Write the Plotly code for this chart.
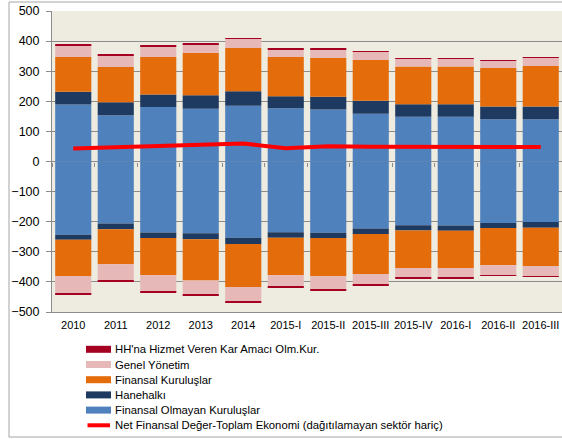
import plotly.graph_objects as go

categories = ["2010", "2011", "2012", "2013", "2014", "2015-I", "2015-II",
              "2015-III", "2015-IV", "2016-I", "2016-II", "2016-III"]

# Finansal Olmayan Kuruluşlar
fok_pos = [189, 154, 181, 175, 185, 177, 173, 159, 149, 149, 140, 140]
fok_neg = [-243, -206, -236, -238, -253, -235, -237, -223, -212, -213, -204, -201]
# Hanehalkı
hh_pos = [43, 43, 42, 45, 48, 40, 42, 43, 41, 41, 43, 43]
hh_neg = [-17, -19, -18, -20, -21, -18, -17, -18, -17, -17, -17, -19]
# Finansal Kuruluşlar
fk_pos = [115, 117, 124, 141, 144, 130, 130, 135, 126, 126, 128, 134]
fk_neg = [-120, -116, -124, -137, -143, -125, -127, -133, -125, -124, -124, -127]
# Genel Yönetim
gy_pos = [40, 37, 35, 29, 31, 26, 27, 29, 25, 25, 23, 29]
gy_neg = [-60, -55, -53, -47, -48, -37, -44, -34, -33, -32, -33, -34]
# HH'na Hizmet Veren Kar Amacı Olm.Kur.
kao_pos = [3, 3, 3, 3, 2, 2, 2, 1, 1, 1, 2, 1]
kao_neg = [-3, -4, -4, -4, -2, -3, -2, -3, -2, -2, -2, -2]
# Net Finansal Değer-Toplam Ekonomi
net = [43, 47, 52, 54, 60, 44, 51, 49, 49, 48, 48, 48]

y_ticks = [-500, -400, -300, -200, -100, 0, 100, 200, 300, 400, 500]

legend_names = ["HH'na Hizmet Veren Kar Amacı Olm.Kur.", "Genel Yönetim",
                "Finansal Kuruluşlar", "Hanehalkı", "Finansal Olmayan Kuruluşlar",
                "Net Finansal Değer-Toplam Ekonomi (dağıtılamayan sektör hariç)"]

C_FOK = "#4F81BD"
C_HH = "#1F3A60"
C_FK = "#E46C0A"
C_GY = "#E6B9B8"
C_KAO = "#A50021"
C_NET = "#FF0000"
FONT = "Liberation Sans"

fig = go.Figure()
series = [
    (fok_pos, fok_neg, C_FOK),
    (hh_pos, hh_neg, C_HH),
    (fk_pos, fk_neg, C_FK),
    (gy_pos, gy_neg, C_GY),
    (kao_pos, kao_neg, C_KAO),
]
for pos, neg, col in series:
    for vals in (pos, neg):
        fig.add_trace(go.Bar(x=categories, y=vals, marker=dict(color=col, line=dict(width=0)),
                             showlegend=False, hoverinfo="skip"))

fig.add_trace(go.Scatter(x=categories, y=net, mode="lines", xaxis="x2",
                         line=dict(color=C_NET, width=4), showlegend=False))

W, H = 562, 439
L, R, T, B = 52, 0, 11, 127
pw = W - L - R
ph = H - T - B


def px(x):
    return (x - L) / pw


def py(y):
    return (H - B - y) / ph


shapes = []
annotations = []
# outer chart border
shapes.append(dict(type="rect", xref="paper", yref="paper", x0=px(9), x1=px(570),
                   y0=py(437), y1=py(2), line=dict(color="#A6A6A6", width=1), layer="below"))

legend_colors = [C_KAO, C_GY, C_FK, C_HH, C_FOK, C_NET]
y0 = 349.3
for i, (name, col) in enumerate(zip(legend_names, legend_colors)):
    yc = y0 + i * 15.2
    if i < 5:
        shapes.append(dict(type="rect", xref="paper", yref="paper", x0=px(86), x1=px(111),
                           y0=py(yc + 3.5), y1=py(yc - 3.5), fillcolor=col, line=dict(width=0)))
    else:
        shapes.append(dict(type="line", xref="paper", yref="paper", x0=px(87.5), x1=px(110),
                           y0=py(yc), y1=py(yc), line=dict(color=col, width=4)))
    annotations.append(dict(xref="paper", yref="paper", x=px(112.5), y=py(yc), text=name,
                            showarrow=False, xanchor="left", yanchor="middle",
                            font=dict(family=FONT, size=11.3, color="#000000")))

fig.update_layout(
    width=W, height=H,
    margin=dict(l=L, r=R, t=T, b=B, pad=0),
    barmode="relative",
    bargap=0.15,
    plot_bgcolor="#EEECE1",
    paper_bgcolor="#FFFFFF",
    font=dict(family=FONT, color="#000000"),
    showlegend=False,
    shapes=shapes,
    annotations=annotations,
    xaxis=dict(showgrid=False, showline=True, linecolor="#8C8C8C", linewidth=1,
               ticks="", tickfont=dict(family=FONT, size=11), tickangle=0,
               ticklabelstandoff=3, categoryorder="array", categoryarray=categories),
    xaxis2=dict(overlaying="x", matches="x", anchor="free", position=0.5, side="bottom",
                showgrid=False, showline=False, zeroline=False, showticklabels=False,
                ticks="outside", ticklen=4, tickwidth=1, tickcolor="#8C8C8C",
                tickson="boundaries", layer="above traces"),
    yaxis=dict(range=[-500, 500], tickvals=y_ticks, showgrid=True, gridcolor="#8C8C8C",
               gridwidth=1, zeroline=True, zerolinecolor="#8C8C8C", zerolinewidth=1,
               showline=True, linecolor="#8C8C8C", linewidth=1,
               ticks="outside", ticklen=5, tickcolor="#8C8C8C",
               tickfont=dict(family=FONT, size=12.5), ticklabelstandoff=4),
)

fig.write_html("out.html", config={"displayModeBar": False},
               post_script="document.body.style.margin='0';document.body.style.overflow='hidden';")
